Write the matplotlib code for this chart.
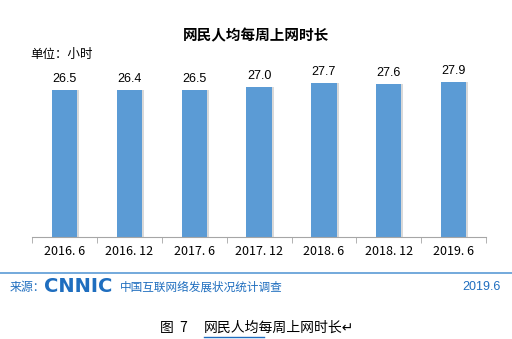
import matplotlib.pyplot as plt
import numpy as np

cats = ['2016. 6', '2016. 12', '2017. 6', '2017. 12', '2018. 6', '2018. 12', '2019. 6']
hours = [26.5, 26.4, 26.5, 27.0, 27.7, 27.6, 27.9]

plt.rcParams['font.family'] = ['Noto Sans CJK SC', 'DejaVu Sans']
blue = '#5B9BD5'
dark_blue = '#1F6EBF'

fig = plt.figure(figsize=(5.12, 3.39), dpi=100)
ax = fig.add_axes([0.0625, 0.301, 0.887, 0.524])

x = np.arange(len(cats))
# light shadow on the right of each bar
ax.bar(x + 0.03, hours, width=0.39, color='#d9d9d9', zorder=1)
ax.bar(x, hours, width=0.39, color=blue, zorder=2)
for xi, v in zip(x, hours):
    ax.text(xi, v + 0.9, f'{v:.1f}', ha='center', va='bottom', fontsize=9,
            family='Liberation Sans')

ax.set_xlim(-0.5, len(cats) - 0.5)
ax.set_ylim(0, 32)
ax.set_yticks([])
ax.set_xticks(x)
ax.set_xticklabels(cats, fontsize=9)
ax.set_xticks(np.arange(len(cats) + 1) - 0.5, minor=True)
ax.tick_params(axis='x', which='major', length=0, pad=6)
ax.tick_params(axis='x', which='minor', length=4, color='#a6a6a6')
for s in ['left', 'right', 'top']:
    ax.spines[s].set_visible(False)
ax.spines['bottom'].set_color('#a6a6a6')

fig.text(0.5, 0.895, '网民人均每周上网时长', ha='center', va='center',
         fontsize=10.5, fontweight='bold')
fig.text(0.06, 0.84, '单位：小时', ha='left', va='center', fontsize=9)

fig.add_artist(plt.Line2D([0, 1], [1 - 273 / 339] * 2, color='#5B9BD5', lw=1.2))
fig.text(0.018, 1 - 287 / 339, '来源：', ha='left', va='center', fontsize=8.6, color=dark_blue)
fig.text(0.086, 1 - 287 / 339, 'CNNIC', ha='left', va='center', fontsize=14,
         fontweight='bold', color=dark_blue, family='DejaVu Sans')
fig.text(0.234, 1 - 287 / 339, '中国互联网络发展状况统计调查', ha='left', va='center',
         fontsize=8.4, color=dark_blue)
fig.text(0.977, 1 - 287 / 339, '2019.6', ha='right', va='center', fontsize=9,
         color=dark_blue, family='Liberation Sans')

fig.text(160 / 512, 1 - 328 / 339, '图  7', ha='left', va='center', fontsize=10)
fig.text(204 / 512, 1 - 328 / 339, '网民人均每周上网时长↵', ha='left', va='center',
         fontsize=10)
fig.add_artist(plt.Line2D([204 / 512, 264 / 512], [1 - 337 / 339] * 2, color='#1F6EBF', lw=1))

fig.savefig('out.png', dpi=100)
